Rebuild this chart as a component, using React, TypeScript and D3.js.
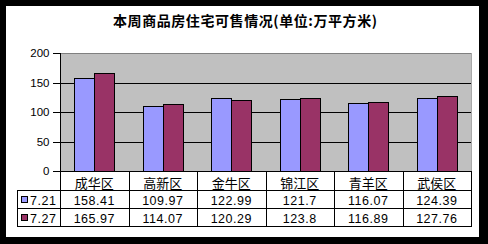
import React from "react";
import * as d3 from "d3";

const title = "本周商品房住宅可售情况(单位:万平方米)";
const categories = ["成华区", "高新区", "金牛区", "锦江区", "青羊区", "武侯区"];
const seriesNames = ["7.21", "7.27"];
const values721 = [158.41, 109.97, 122.99, 121.7, 116.07, 124.39];
const values727 = [165.97, 114.07, 120.29, 123.8, 116.89, 127.76];
const valueLabels721 = ["158.41", "109.97", "122.99", "121.7", "116.07", "124.39"];
const valueLabels727 = ["165.97", "114.07", "120.29", "123.8", "116.89", "127.76"];
const yTicks = [0, 50, 100, 150, 200];
const colors = ["#9999FF", "#993366"];

const W = 488;
const H = 244;
const plotL = 60;
const plotR = 471;
const plotT = 53;
const plotB = 171;
const row1B = 190;
const row2B = 208;
const row3B = 226;
const legendL = 17;

export default function App() {
  const x = d3.scaleBand<string>().domain(categories).range([plotL, plotR]).padding(0);
  const xs = d3
    .scaleBand<string>()
    .domain(seriesNames)
    .range([0, x.bandwidth()])
    .paddingInner(0)
    .paddingOuter(0.7125);
  const y = d3.scaleLinear().domain([0, 200]).range([plotB, plotT]);
  const series = [values721, values727];
  const labels = [valueLabels721, valueLabels727];
  const c = (v: number) => Math.round(v) + 0.5;
  const sans = "'Liberation Sans', Arial, sans-serif";
  const cjk = "'Noto Sans CJK SC', sans-serif";
  const mono = "'Liberation Sans', Arial, sans-serif";

  return (
    <svg
      width={W}
      height={H}
      style={{ position: "absolute", left: 0, top: 0, background: "#000" }}
    >
      <rect x={0} y={0} width={W} height={H} fill="#000" />
      <rect x={6} y={6} width={473} height={231} fill="#fff" />
      <text
        x={113}
        y={20}
        textLength={264}
        lengthAdjust="spacing"
        dominantBaseline="central"
        fontFamily={cjk}
        fontWeight="bold"
        fontSize={14}
        fill="#000"
      >
        {title}
      </text>
      {/* plot area */}
      <rect x={plotL} y={plotT} width={plotR - plotL} height={plotB - plotT} fill="#C0C0C0" />
      <line x1={plotL} x2={plotR} y1={c(plotT)} y2={c(plotT)} stroke="#808080" />
      <line x1={c(plotR)} x2={c(plotR)} y1={plotT} y2={plotB} stroke="#a8a8a8" />
      {yTicks
        .filter((t) => t > 0 && t < 200)
        .map((t) => (
          <line key={t} x1={plotL} x2={plotR} y1={c(y(t))} y2={c(y(t))} stroke="#000" />
        ))}
      {yTicks.map((t) => (
        <g key={"t" + t}>
          <line x1={plotL - 7} x2={plotL} y1={c(y(t))} y2={c(y(t))} stroke="#000" />
          <text
            x={49.5}
            y={y(t)}
            textAnchor="end"
            dominantBaseline="central"
            fontFamily={sans}
            fontSize={11.5}
            fill="#000"
          >
            {t}
          </text>
        </g>
      ))}
      {/* bars */}
      {categories.map((cat, i) => (
        <g key={cat}>
          {seriesNames.map((s, j) => {
            const x0 = Math.round((x(cat) as number) + (xs(s) as number));
            const x1 = Math.round((x(cat) as number) + (xs(s) as number) + xs.bandwidth());
            const yt = Math.round(y(series[j][i]));
            return (
              <rect
                key={s}
                x={x0 + 0.5}
                y={yt + 0.5}
                width={x1 - x0}
                height={plotB - yt}
                fill={colors[j]}
                stroke="#000"
              />
            );
          })}
        </g>
      ))}
      {/* value axis line */}
      <line x1={c(plotL)} x2={c(plotL)} y1={plotT} y2={row3B + 1} stroke="#000" />
      {/* table */}
      <line x1={plotL} x2={plotR + 1} y1={c(plotB)} y2={c(plotB)} stroke="#000" />
      <line x1={legendL} x2={plotR + 1} y1={c(row1B)} y2={c(row1B)} stroke="#000" />
      <line x1={legendL} x2={plotR + 1} y1={c(row2B)} y2={c(row2B)} stroke="#000" />
      <line x1={legendL} x2={plotR + 1} y1={c(row3B)} y2={c(row3B)} stroke="#000" />
      <line x1={c(legendL)} x2={c(legendL)} y1={row1B} y2={row3B + 1} stroke="#000" />
      {categories.map((cat) => {
        const xr = (x(cat) as number) + x.bandwidth();
        return (
          <line key={"v" + cat} x1={c(xr)} x2={c(xr)} y1={plotB} y2={row3B + 1} stroke="#000" />
        );
      })}
      {categories.map((cat) => (
        <text
          key={"c" + cat}
          x={(x(cat) as number) + x.bandwidth() / 2}
          y={(plotB + row1B) / 2 + 1.5}
          textAnchor="middle"
          dominantBaseline="central"
          fontFamily={cjk}
          fontSize={13}
          fill="#000"
        >
          {cat}
        </text>
      ))}
      {seriesNames.map((s, j) => {
        const top = j === 0 ? row1B : row2B;
        const bot = j === 0 ? row2B : row3B;
        const cy = (top + bot) / 2 + 0.5;
        return (
          <g key={"r" + s}>
            <rect
              x={21.5}
              y={Math.round(cy) - 3.5}
              width={6}
              height={6}
              fill={colors[j]}
              stroke="#000"
            />
            <text
              x={30}
              y={cy + 1}
              dominantBaseline="central"
              fontFamily={mono}
              fontSize={12.5}
              letterSpacing={0.5}
              fill="#000"
            >
              {s}
            </text>
            {categories.map((cat, i) => (
              <text
                key={cat}
                x={(x(cat) as number) + x.bandwidth() / 2}
                y={cy + 1}
                textAnchor="middle"
                dominantBaseline="central"
                fontFamily={mono}
                fontSize={12.5}
                letterSpacing={0.5}
                fill="#000"
              >
                {labels[j][i]}
              </text>
            ))}
          </g>
        );
      })}
    </svg>
  );
}
